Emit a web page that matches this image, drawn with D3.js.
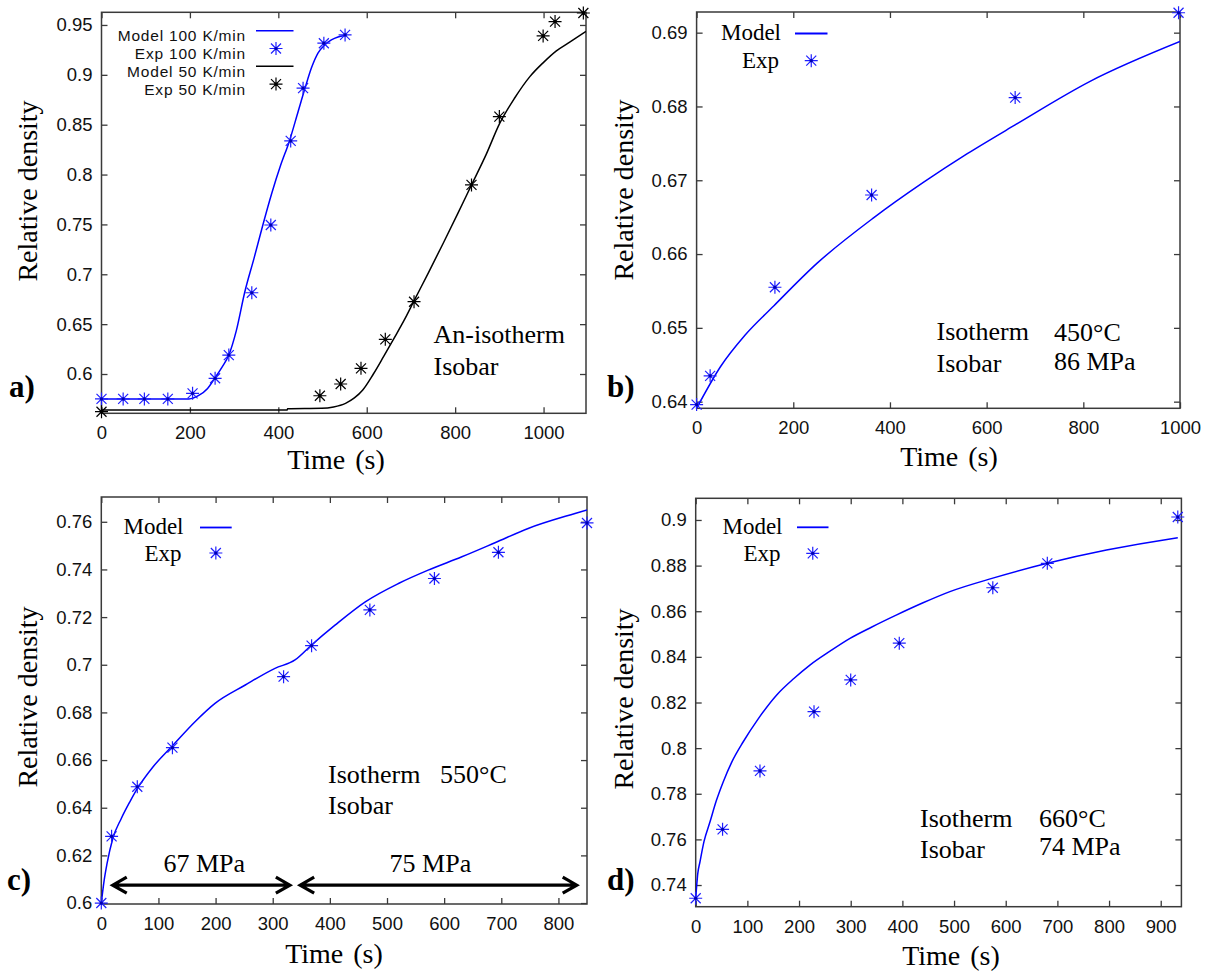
<!DOCTYPE html>
<html><head><meta charset="utf-8">
<script src="https://cdn.jsdelivr.net/npm/d3@7"></script>
<style>body{margin:0;background:#fff}svg{display:block}</style>
</head><body>
<svg id="chart" width="1216" height="975"></svg>
<script>
// ---------------- DATA ----------------
// Panel a (an-isotherm, isobar)
const aBlueModelT = [0, 198, 220, 240, 256, 272, 288, 305, 324, 345, 365, 385, 405, 425, 445, 460, 475, 490, 505, 520, 535, 550];
const aBlueModelV = [0.575, 0.575, 0.5785, 0.5855, 0.5957, 0.6065, 0.619, 0.6435, 0.682, 0.716, 0.7494, 0.781, 0.809, 0.8335, 0.8635, 0.886, 0.907, 0.922, 0.930, 0.935, 0.938, 0.9395];
const aBlueExpT = [0, 49, 97, 150, 206, 257, 288, 340, 383, 428, 456, 503, 551];
const aBlueExpV = [0.575, 0.575, 0.575, 0.575, 0.5806, 0.5957, 0.619, 0.6815, 0.7494, 0.8337, 0.8866, 0.9317, 0.94];
const aBlackModelT = [0, 420, 421, 498, 525, 552, 572, 591, 615, 638, 662, 685, 706, 740, 773, 805, 837, 870, 901, 935, 969, 1000, 1029, 1060, 1096];
const aBlackModelV = [0.564, 0.564, 0.5652, 0.5656, 0.567, 0.5706, 0.576, 0.584, 0.600, 0.6174, 0.636, 0.6542, 0.6725, 0.702, 0.7311, 0.760, 0.7896, 0.820, 0.8515, 0.877, 0.8982, 0.9125, 0.924, 0.933, 0.9435];
const aBlackExpT = [0, 494, 541, 587, 642, 707, 837, 900, 999, 1026, 1090];
const aBlackExpV = [0.5622, 0.5782, 0.590, 0.6057, 0.6348, 0.6725, 0.7896, 0.8581, 0.939, 0.9534, 0.962];
const aXTicks = [0, 200, 400, 600, 800, 1000];
const aYTicks = [0.6, 0.65, 0.7, 0.75, 0.8, 0.85, 0.9, 0.95];
const aLegendLabels = ["Model 100 K/min", "Exp 100 K/min", "Model 50 K/min", "Exp 50 K/min"];

// Panel b (isotherm 450°C, 86 MPa)
const bModelT = [0, 50, 100, 160, 250, 366, 469, 560, 659, 814, 1000];
const bModelV = [0.6391, 0.6448, 0.6490, 0.6530, 0.6588, 0.6649, 0.6697, 0.6736, 0.6775, 0.6834, 0.6888];
const bExpT = [0, 28, 162, 362, 659, 997];
const bExpV = [0.6396, 0.6435, 0.6555, 0.668, 0.6812, 0.6927];
const bXTicks = [0, 200, 400, 600, 800, 1000];
const bYTicks = [0.64, 0.65, 0.66, 0.67, 0.68, 0.69];

// Panel c (isotherm 550°C, 67 / 75 MPa)
const cModelT = [0, 5, 10, 20, 35, 50, 63, 90, 124.5, 164, 199, 252, 304, 339, 368, 409, 462, 520, 572, 631, 689, 747, 829, 850];
const cModelV = [0.6, 0.6095, 0.6165, 0.627, 0.6355, 0.6425, 0.648, 0.657, 0.666, 0.6761, 0.6838, 0.6915, 0.6985, 0.702, 0.7083, 0.7166, 0.7264, 0.7341, 0.7397, 0.7453, 0.7512, 0.7572, 0.7635, 0.765];
const cExpT = [0, 18, 63, 124.5, 319, 368, 470, 583, 695, 850];
const cExpV = [0.6, 0.628, 0.6488, 0.6652, 0.695, 0.708, 0.723, 0.7362, 0.7472, 0.7595];
const cXTicks = [0, 100, 200, 300, 400, 500, 600, 700, 800];
const cYTicks = [0.6, 0.62, 0.64, 0.66, 0.68, 0.7, 0.72, 0.74, 0.76];
const cPressureLabels = ["67 MPa", "75 MPa"];
const cPressureStart = [20, 348];
const cPressureEnd = [330, 832];

// Panel d (isotherm 660°C, 74 MPa)
const dModelT = [0, 2, 4, 8.3, 16, 27.7, 40, 53.4, 70, 92, 120, 156.8, 190, 221, 260, 298.6, 340, 389, 440, 492, 575, 680.5, 795, 918, 933];
const dModelV = [0.7342, 0.740, 0.745, 0.7502, 0.759, 0.7677, 0.777, 0.7853, 0.794, 0.8028, 0.8125, 0.8233, 0.8305, 0.8364, 0.8425, 0.8481, 0.853, 0.8584, 0.8637, 0.8686, 0.8745, 0.881, 0.8868, 0.8917, 0.8922];
const dExpT = [0, 52, 124.4, 229, 300, 394, 575, 680.5, 933];
const dExpV = [0.7342, 0.7644, 0.79, 0.816, 0.8299, 0.846, 0.8703, 0.881, 0.9013];
const dXTicks = [0, 100, 200, 300, 400, 500, 600, 700, 800, 900];
const dYTicks = [0.74, 0.76, 0.78, 0.8, 0.82, 0.84, 0.86, 0.88, 0.9];

// ---------------- STYLE ----------------
const SERIF = "'Liberation Serif','Times New Roman',serif";
const SANS = "'Liberation Sans',Arial,sans-serif";
const BLUE = "#0000ff";
const STARBLUE = "#1f1fff";
const FRAME = "#3a3a3a";

const svg = d3.select("#chart");
svg.append("rect").attr("width", 1216).attr("height", 975).attr("fill", "#fff");

function fmt(d) { return String(+d.toFixed(4)); }

function starPath(cx, cy) {
  const a = 6.5, b = 5;
  return `M${cx - a},${cy}H${cx + a}M${cx},${cy - a}V${cy + a}` +
         `M${cx - b},${cy - b}L${cx + b},${cy + b}M${cx - b},${cy + b}L${cx + b},${cy - b}`;
}

function drawStars(g, xs, ys, color, dot) {
  const idx = d3.range(xs.length);
  g.selectAll(null).data(idx).enter().append("path")
    .attr("d", i => starPath(xs[i], ys[i]))
    .attr("stroke", color).attr("stroke-width", 1.2).attr("fill", "none");
  g.selectAll(null).data(idx).enter().append("circle")
    .attr("cx", i => xs[i]).attr("cy", i => ys[i]).attr("r", 1.6).attr("fill", dot);
}

function drawPanel(p) {
  const x = d3.scaleLinear().domain(p.xDomain).range([p.L, p.R]);
  const y = d3.scaleLinear().domain(p.yDomain).range([p.B, p.T]);
  const g = svg.append("g");
  const clipId = "clip-" + p.id;
  svg.append("clipPath").attr("id", clipId).append("rect")
    .attr("x", p.L).attr("y", p.T).attr("width", p.R - p.L).attr("height", p.B - p.T);

  const tl = 6;
  g.append("g").attr("transform", `translate(0,${p.B})`)
    .call(d3.axisBottom(x).tickValues(p.xTicks).tickFormat(fmt).tickSizeInner(-tl).tickSizeOuter(0).tickPadding(13));
  g.append("g").attr("transform", `translate(0,${p.T})`)
    .call(d3.axisTop(x).tickValues(p.xTicks).tickFormat("").tickSizeInner(-tl).tickSizeOuter(0));
  g.append("g").attr("transform", `translate(${p.L},0)`)
    .call(d3.axisLeft(y).tickValues(p.yTicks).tickFormat(fmt).tickSizeInner(-tl).tickSizeOuter(0).tickPadding(9));
  g.append("g").attr("transform", `translate(${p.R},0)`)
    .call(d3.axisRight(y).tickValues(p.yTicks).tickFormat("").tickSizeInner(-tl).tickSizeOuter(0));
  g.selectAll(".domain").remove();
  g.selectAll(".tick line").attr("stroke", FRAME).attr("stroke-width", 1.3);
  g.selectAll(".tick text").attr("font-family", SANS).attr("font-size", 18.5).attr("fill", "#111");

  g.append("rect").attr("x", p.L).attr("y", p.T).attr("width", p.R - p.L).attr("height", p.B - p.T)
    .attr("fill", "none").attr("stroke", FRAME).attr("stroke-width", 1.5);

  const line = d3.line().curve(d3.curveMonotoneX);
  p.series.forEach(s => {
    if (s.type === "line") {
      const pts = s.t.map((t, i) => [x(t), y(s.v[i])]);
      g.append("path").attr("d", line(pts)).attr("fill", "none")
        .attr("stroke", s.color).attr("stroke-width", 1.5).attr("clip-path", `url(#${clipId})`);
    }
  });
  p.series.forEach(s => {
    if (s.type === "star") {
      drawStars(g, s.t.map(x), s.v.map(y), s.color, s.dot);
    }
  });

  // axis titles
  g.append("text").attr("x", p.xTitleX).attr("y", p.xTitleY).attr("text-anchor", "middle")
    .attr("font-family", SERIF).attr("font-size", 28).attr("word-spacing", 3).attr("fill", "#000").text("Time (s)");
  g.append("text").attr("transform", `translate(${p.yTitleX},${p.yTitleY}) rotate(-90)`)
    .attr("text-anchor", "middle").attr("dy", "0.35em")
    .attr("font-family", SERIF).attr("font-size", 28).attr("fill", "#000").text("Relative density");
  // panel letter
  g.append("text").attr("x", p.letterX).attr("y", p.letterY)
    .attr("font-family", SERIF).attr("font-size", 31).attr("font-weight", "bold").attr("fill", "#000").text(p.id + ")");
  // annotations
  p.notes.forEach(n => {
    g.append("text").attr("x", n[0]).attr("y", n[1]).attr("font-family", SERIF).attr("font-size", 26)
      .attr("fill", "#000").text(n[2]);
  });
  return { g, x, y };
}

function simpleLegend(g, lg) {
  g.append("text").attr("x", lg.textX).attr("y", lg.y1 + 6.5).attr("text-anchor", "end")
    .attr("font-family", SERIF).attr("font-size", 23).attr("fill", "#000").text("Model");
  g.append("line").attr("x1", lg.lx1).attr("x2", lg.lx2).attr("y1", lg.y1).attr("y2", lg.y1)
    .attr("stroke", BLUE).attr("stroke-width", 1.8);
  g.append("text").attr("x", lg.textX - 2).attr("y", lg.y2 + 7.5).attr("text-anchor", "end")
    .attr("font-family", SERIF).attr("font-size", 23).attr("fill", "#000").text("Exp");
  drawStars(g, [(lg.lx1 + lg.lx2) / 2], [lg.y2], STARBLUE, "#0000b0");
}

// ---------------- PANEL A ----------------
const pa = drawPanel({
  id: "a", L: 101.5, R: 586, T: 12.3, B: 413.3,
  xDomain: [0, 1096], yDomain: [0.5606, 0.9627], xTicks: aXTicks, yTicks: aYTicks,
  series: [
    { type: "line", t: aBlueModelT, v: aBlueModelV, color: BLUE },
    { type: "line", t: aBlackModelT, v: aBlackModelV, color: "#000" },
    { type: "star", t: aBlueExpT, v: aBlueExpV, color: STARBLUE, dot: "#0000b0" },
    { type: "star", t: aBlackExpT, v: aBlackExpV, color: "#000", dot: "#000" }
  ],
  xTitleX: 336, xTitleY: 469, yTitleX: 27, yTitleY: 191, letterX: 9, letterY: 397,
  notes: [[433.5, 343, "An-isotherm"], [433.5, 375, "Isobar"]]
});
{
  const g = pa.g;
  const rows = [30.7, 48.5, 66.3, 84.1];
  rows.forEach((ry, i) => {
    g.append("text").attr("x", 246).attr("y", ry + 10.5).attr("text-anchor", "end")
      .attr("font-family", SANS).attr("font-size", 15.5).attr("letter-spacing", 0.8)
      .attr("fill", "#111").text(aLegendLabels[i]);
  });
  g.append("line").attr("x1", 256).attr("x2", 293.5).attr("y1", rows[0]).attr("y2", rows[0]).attr("stroke", BLUE).attr("stroke-width", 1.5);
  drawStars(g, [276], [rows[1]], STARBLUE, "#0000b0");
  g.append("line").attr("x1", 256).attr("x2", 293.5).attr("y1", rows[2]).attr("y2", rows[2]).attr("stroke", "#000").attr("stroke-width", 1.5);
  drawStars(g, [276], [rows[3]], "#000", "#000");
}

// ---------------- PANEL B ----------------
const pb = drawPanel({
  id: "b", L: 696.6, R: 1180, T: 12, B: 408.3,
  xDomain: [0, 1000], yDomain: [0.6391, 0.6928], xTicks: bXTicks, yTicks: bYTicks,
  series: [
    { type: "line", t: bModelT, v: bModelV, color: BLUE },
    { type: "star", t: bExpT, v: bExpV, color: STARBLUE, dot: "#0000b0" }
  ],
  xTitleX: 949, xTitleY: 466, yTitleX: 623, yTitleY: 190, letterX: 607, letterY: 397,
  notes: [[936.5, 340, "Isotherm"], [1054, 341, "450°C"], [936.5, 371.5, "Isobar"], [1054, 369.5, "86 MPa"]]
});
simpleLegend(pb.g, { textX: 781, lx1: 795, lx2: 827.5, y1: 33.5, y2: 60.7 });

// ---------------- PANEL C ----------------
const pc = drawPanel({
  id: "c", L: 101.3, R: 587, T: 497, B: 904,
  xDomain: [0, 850], yDomain: [0.5996, 0.7704], xTicks: cXTicks, yTicks: cYTicks,
  series: [
    { type: "line", t: cModelT, v: cModelV, color: BLUE },
    { type: "star", t: cExpT, v: cExpV, color: STARBLUE, dot: "#0000b0" }
  ],
  xTitleX: 334, xTitleY: 963, yTitleX: 27, yTitleY: 697, letterX: 7, letterY: 890,
  notes: [[328, 783, "Isotherm"], [440, 783, "550°C"], [328, 814, "Isobar"]]
});
{
  const g = pc.g, x = pc.x, y = pc.y;
  const ay = y(0.6075);
  cPressureLabels.forEach((lab, i) => {
    const x1 = x(cPressureStart[i]), x2 = x(cPressureEnd[i]);
    g.append("path")
      .attr("d", `M${x1},${ay}H${x2}M${x1 + 14},${ay - 8}L${x1},${ay}L${x1 + 14},${ay + 8}M${x2 - 14},${ay - 8}L${x2},${ay}L${x2 - 14},${ay + 8}`)
      .attr("fill", "none").attr("stroke", "#000").attr("stroke-width", 3.2).attr("stroke-linejoin", "miter");
    g.append("text").attr("x", (x1 + x2) / 2 + (i === 0 ? 3 : -8)).attr("y", ay - 13).attr("text-anchor", "middle")
      .attr("font-family", SERIF).attr("font-size", 26).attr("fill", "#000").text(lab);
  });
}
simpleLegend(pc.g, { textX: 183.5, lx1: 200, lx2: 231.7, y1: 527.5, y2: 553 });

// ---------------- PANEL D ----------------
const pd = drawPanel({
  id: "d", L: 695.7, R: 1181.4, T: 498.3, B: 906.7,
  xDomain: [0, 940], yDomain: [0.7305, 0.9095], xTicks: dXTicks, yTicks: dYTicks,
  series: [
    { type: "line", t: dModelT, v: dModelV, color: BLUE },
    { type: "star", t: dExpT, v: dExpV, color: STARBLUE, dot: "#0000b0" }
  ],
  xTitleX: 951, xTitleY: 965, yTitleX: 623, yTitleY: 699, letterX: 607, letterY: 890,
  notes: [[920, 827, "Isotherm"], [1039, 827, "660°C"], [920, 858, "Isobar"], [1039, 855, "74 MPa"]]
});
simpleLegend(pd.g, { textX: 782.5, lx1: 797, lx2: 828.5, y1: 527.3, y2: 553.3 });
</script>
</body></html>
